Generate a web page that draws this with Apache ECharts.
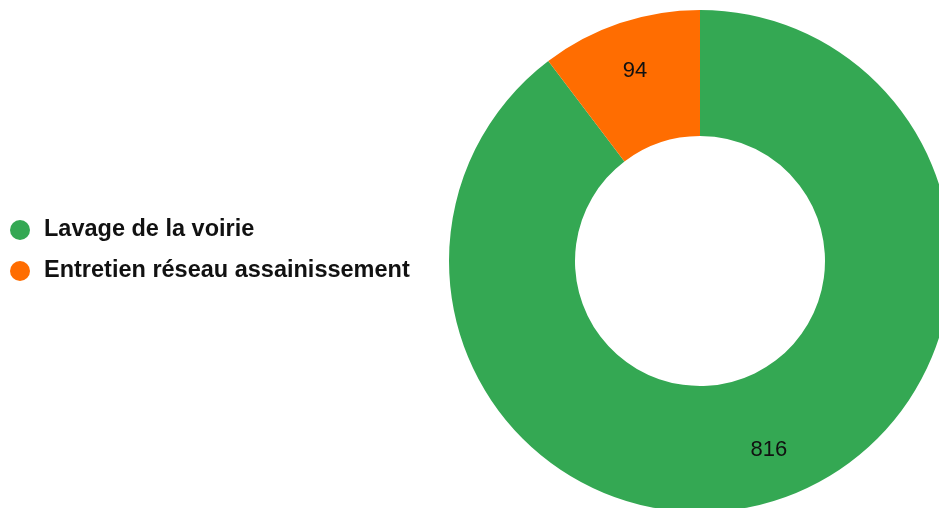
<!DOCTYPE html>
<html><head><meta charset="utf-8">
<script src="https://cdn.jsdelivr.net/npm/echarts@6/dist/echarts.min.js"></script>
<style>html,body{margin:0;padding:0;background:#fff}#c{width:939px;height:508px}</style>
</head><body><div id="c"></div>
<script>
const categories = ["Lavage de la voirie", "Entretien réseau assainissement"];
const values = [816, 94];
const colors = ["#34a853", "#ff6d01"];
const labelOffsets = [[8, 8], [-4, -9]];

const chart = echarts.init(document.getElementById('c'), null, {renderer: 'canvas'});
chart.setOption({
  animation: false,
  color: colors,
  legend: {
    orient: 'vertical', left: 5, top: 213,
    icon: 'circle', itemWidth: 20, itemHeight: 20, itemGap: 17,
    textStyle: {fontFamily: 'Liberation Sans, Arial, sans-serif', fontWeight: 'bold', fontSize: 23.5, color: '#111', padding: [0, 0, 0, 9]},
    data: categories
  },
  series: [{
    type: 'pie',
    center: [700, 261],
    radius: [125, 251],
    startAngle: 90,
    clockwise: true,
    avoidLabelOverlap: false,
    label: {position: 'inside', formatter: '{c}', fontFamily: 'Liberation Sans, Arial, sans-serif', fontSize: 22, color: '#111'},
    labelLine: {show: false},
    emphasis: {disabled: true},
    data: categories.map((n, i) => ({name: n, value: values[i], label: {offset: labelOffsets[i]}}))
  }]
});
</script></body></html>
